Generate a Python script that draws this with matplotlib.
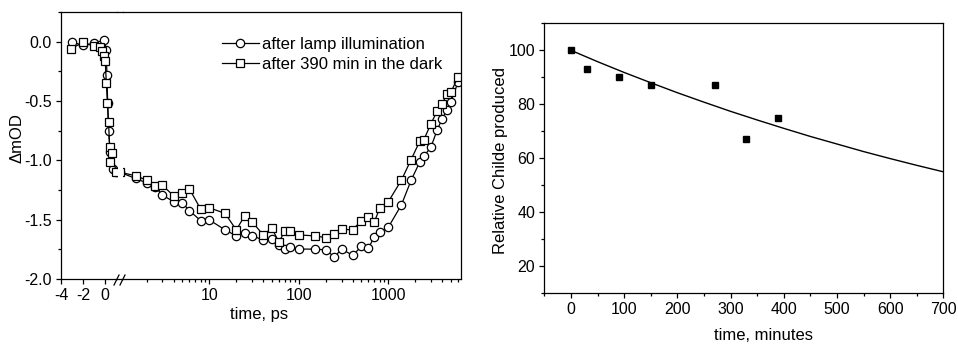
import matplotlib
matplotlib.use('Agg')
import matplotlib.pyplot as plt
from matplotlib.lines import Line2D
from matplotlib.ticker import MultipleLocator, FixedLocator, LogLocator, NullFormatter, FixedFormatter

plt.rcParams['font.family'] = ['Liberation Sans', 'DejaVu Sans']
plt.rcParams['axes.unicode_minus'] = False

# ---------------- data: left panel (transient absorption) ----------------
# linear (early) part of the time axis, ps
lin_t_lamp = [-3.0, -2.0, -1.0, -0.5, -0.1, 0.1, 0.15, 0.22, 0.3, 0.45, 0.7, 1.0]
lin_lamp = [-0.005, -0.03, -0.015, -0.025, 0.01, -0.07, -0.28, -0.52, -0.75, -0.93, -1.07, -1.10]
lin_t_dark = [-3.1, -2.0, -1.0, -0.5, -0.25, -0.1, 0.0, 0.1, 0.2, 0.3, 0.4, 0.45, 0.6, 1.0]
lin_dark = [-0.06, -0.005, -0.04, -0.045, -0.075, -0.12, -0.165, -0.35, -0.52, -0.68, -0.89, -1.01, -0.94, -1.10]

# logarithmic (late) part of the time axis, ps
log_t = [1.0, 1.5, 2, 2.5, 3, 4, 5, 6, 8, 10, 15, 20, 25, 30, 40, 50, 60, 70, 80, 100,
         150, 200, 250, 300, 400, 500, 600, 700, 800, 1000, 1400, 1800, 2250, 2500,
         3000, 3500, 4000, 4500, 5000, 6000]
log_lamp = [-1.10, -1.153, -1.19, -1.228, -1.293, -1.349, -1.357, -1.424, -1.508, -1.502,
            -1.586, -1.637, -1.614, -1.637, -1.67, -1.662, -1.712, -1.748, -1.731, -1.748,
            -1.748, -1.754, -1.815, -1.748, -1.80, -1.726, -1.74, -1.642, -1.608, -1.564,
            -1.376, -1.167, -1.013, -0.965, -0.887, -0.747, -0.649, -0.579, -0.509, -0.342]
log_dark = [-1.10, -1.13, -1.167, -1.22, -1.21, -1.30, -1.273, -1.242, -1.41, -1.40,
            -1.447, -1.586, -1.465, -1.517, -1.628, -1.572, -1.69, -1.592, -1.595, -1.628,
            -1.637, -1.651, -1.62, -1.58, -1.586, -1.508, -1.475, -1.517, -1.404, -1.349,
            -1.167, -0.993, -0.837, -0.825, -0.69, -0.587, -0.525, -0.44, -0.425, -0.30]

label_lamp = 'after lamp illumination'
label_dark = 'after 390 min in the dark'

# ---------------- data: right panel ----------------
minutes = [0, 30, 90, 150, 270, 330, 390]
chlide = [100, 93, 90, 87, 87, 67, 75]
fit_t = [0, 50, 100, 150, 200, 250, 300, 350, 400, 450, 500, 550, 600, 650, 700]
fit_v = [100, 95.8, 91.8, 88.0, 84.3, 80.8, 77.4, 74.2, 71.1, 68.1, 65.3, 62.5, 59.9, 57.4, 55.0]

W, H = 958, 344
fig = plt.figure(figsize=(W / 100, H / 100), dpi=100)


def rect(l, t, r, b):
    return [l / W, 1 - b / H, (r - l) / W, (b - t) / H]


def fpt(x, y):
    return x / W, 1 - y / H


LW = 0.9
TFS = 11.5
LFS = 12

ax1 = fig.add_axes(rect(61, 12, 117, 279))
ax2 = fig.add_axes(rect(123, 12, 461, 279), sharey=ax1)
ax3 = fig.add_axes(rect(544.3, 23.3, 943.3, 293.3))

mk = dict(color='black', lw=0.9, markerfacecolor='white', markeredgecolor='black',
          markeredgewidth=0.9, markersize=6.0)

ax1.plot(lin_t_lamp, lin_lamp, marker='o', label=label_lamp, **mk)
ax1.plot(lin_t_dark, lin_dark, marker='s', label=label_dark, **mk)
ax2.plot(log_t, log_lamp, marker='o', label=label_lamp, **mk)
ax2.plot(log_t, log_dark, marker='s', label=label_dark, **mk)

ax1.set_xlim(-4, 1.064)
ax2.set_xscale('log')
ax2.set_xlim(1.086, 6486)
ax1.set_ylim(-2.0, 0.25)

ax1.spines['right'].set_visible(False)
ax2.spines['left'].set_visible(False)
for ax in (ax1, ax2, ax3):
    for s in ax.spines.values():
        s.set_linewidth(LW)

ax1.xaxis.set_major_locator(FixedLocator([-4, -2, 0]))
ax1.yaxis.set_major_locator(MultipleLocator(0.5))
ax1.yaxis.set_minor_locator(MultipleLocator(0.25))
ax1.yaxis.set_major_formatter(matplotlib.ticker.FormatStrFormatter('%.1f'))
ax1.tick_params(which='both', direction='out', top=False, right=False, labelsize=TFS, width=LW)
ax1.tick_params(which='major', length=3.5, pad=3)
ax1.tick_params(which='minor', length=2.5)

ax2.xaxis.set_major_locator(FixedLocator([10, 100, 1000]))
ax2.xaxis.set_major_formatter(FixedFormatter(['10', '100', '1000']))
ax2.xaxis.set_minor_locator(LogLocator(base=10, subs=range(2, 10), numticks=20))
ax2.xaxis.set_minor_formatter(NullFormatter())
ax2.tick_params(axis='y', which='both', left=False, right=False, labelleft=False)
ax2.tick_params(axis='x', which='both', direction='out', top=False, labelsize=TFS, width=LW)
ax2.tick_params(axis='x', which='major', length=3.5, pad=3)
ax2.tick_params(axis='x', which='minor', length=2.2)

ax1.set_ylabel('\u0394mOD', fontsize=LFS, va='center')
ax1.yaxis.set_label_coords((17 - 61) / 56, (279 - 138) / 267)
ax2.set_xlabel('time, ps', fontsize=LFS, va='center')
ax2.xaxis.set_label_coords((259 - 123) / 338, -(314 - 279) / 267)

# continuous frame across the axis break and the break marks
for y in (12, 279):
    fig.add_artist(Line2D([117 / W, 123 / W], [1 - y / H, 1 - y / H], color='black', lw=LW))
for x0 in (114, 120):
    (xa, ya), (xb, yb) = fpt(x0, 285), fpt(x0 + 5, 275)
    fig.add_artist(Line2D([xa, xb], [ya, yb], color='black', lw=LW))

leg = ax2.legend(loc='upper left', bbox_to_anchor=fpt(222, 37), bbox_transform=fig.transFigure,
                 frameon=False, fontsize=LFS, handlelength=2.2, handletextpad=0.2,
                 labelspacing=0.3, borderpad=0, borderaxespad=0, numpoints=1)

# ---------------- right panel ----------------
ax3.plot(fit_t, fit_v, color='black', lw=1.0)
ax3.plot(minutes, chlide, linestyle='none', marker='s', markersize=4.5, color='black')
ax3.set_xlim(-50, 700)
ax3.set_ylim(10, 110)
ax3.xaxis.set_major_locator(MultipleLocator(100))
ax3.xaxis.set_minor_locator(MultipleLocator(50))
ax3.yaxis.set_major_locator(FixedLocator([20, 40, 60, 80, 100]))
ax3.yaxis.set_minor_locator(MultipleLocator(10))
ax3.tick_params(which='both', direction='out', top=False, right=False, labelsize=TFS, width=LW)
ax3.tick_params(which='major', length=3.5, pad=3)
ax3.tick_params(which='minor', length=2.5)
ax3.set_xlabel('time, minutes', fontsize=LFS, va='center')
ax3.xaxis.set_label_coords((763 - 544.3) / 399, -(336 - 293.3) / 270)
ax3.set_ylabel('Relative Childe produced', fontsize=LFS, va='center')
ax3.yaxis.set_label_coords((500 - 544.3) / 399, (293.3 - 160) / 270)

fig.savefig('out.png', dpi=100)
